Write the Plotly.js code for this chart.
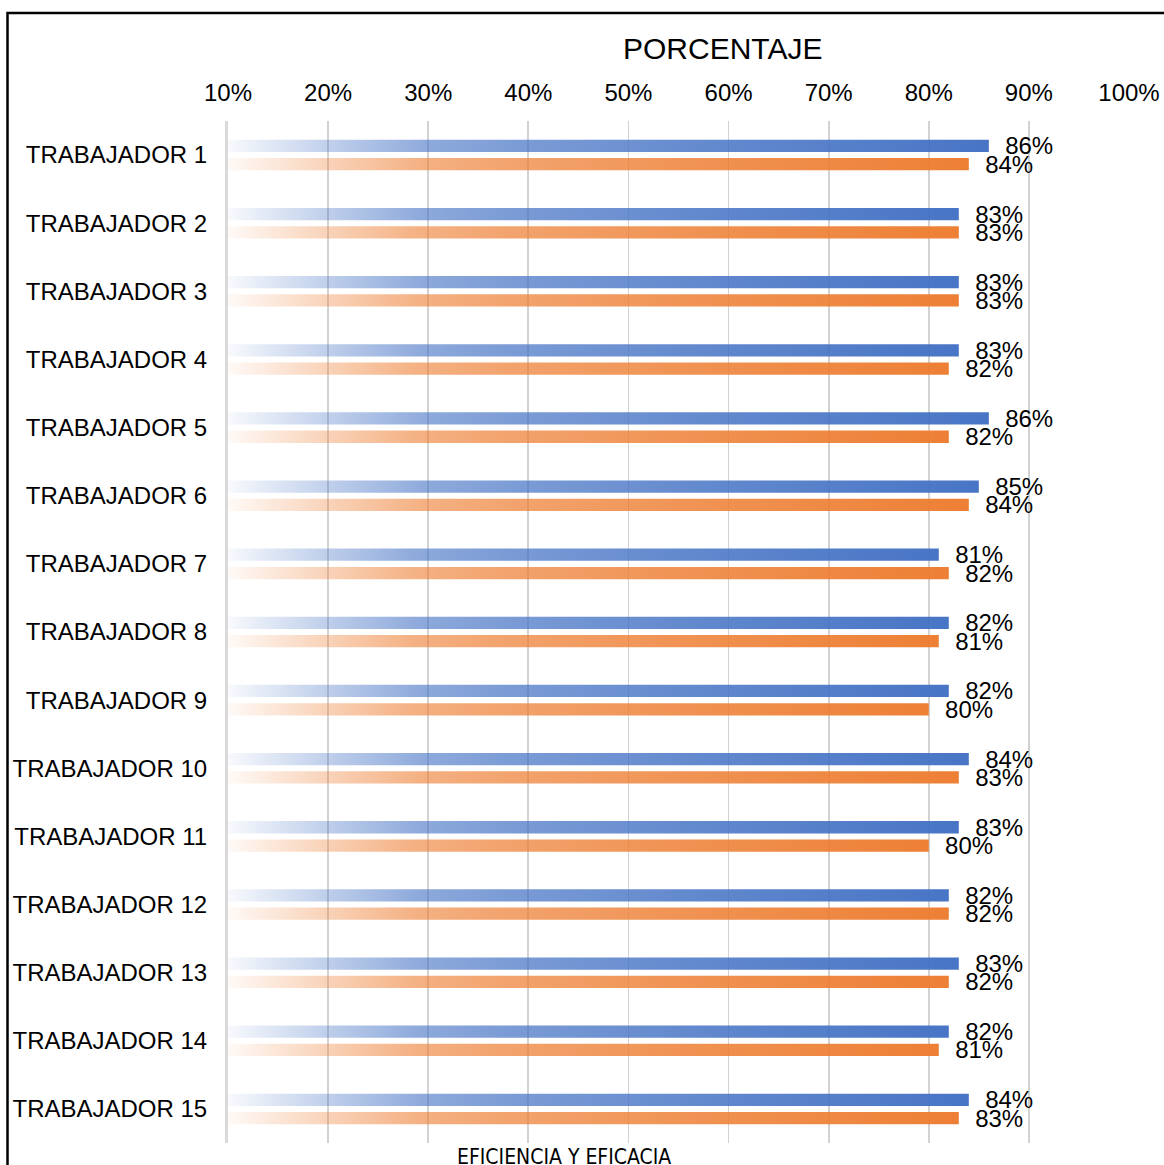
<!DOCTYPE html>
<html>
<head>
<meta charset="utf-8">
<script src="https://cdn.plot.ly/plotly-3.0.1.min.js"></script>
<style>html,body{margin:0;padding:0;background:#fff;}#chart{width:1164px;height:1165px;}</style>
</head>
<body>
<div id="chart"></div>
<script>
// ---- data ----
const categories = ['TRABAJADOR 1','TRABAJADOR 2','TRABAJADOR 3','TRABAJADOR 4','TRABAJADOR 5',
  'TRABAJADOR 6','TRABAJADOR 7','TRABAJADOR 8','TRABAJADOR 9','TRABAJADOR 10',
  'TRABAJADOR 11','TRABAJADOR 12','TRABAJADOR 13','TRABAJADOR 14','TRABAJADOR 15'];
const eficiencia = [0.86,0.83,0.83,0.83,0.86,0.85,0.81,0.82,0.82,0.84,0.83,0.82,0.83,0.82,0.84];
const eficacia   = [0.84,0.83,0.83,0.82,0.82,0.84,0.82,0.81,0.80,0.83,0.80,0.82,0.82,0.81,0.83];
const tickVals = [0.1,0.2,0.3,0.4,0.5,0.6,0.7,0.8,0.9,1.0];
const tickText = ['10%','20%','30%','40%','50%','60%','70%','80%','90%','100%'];
const axisTitle = 'PORCENTAJE';
const bottomText = 'EFICIENCIA Y EFICACIA';
const AXIS_MIN = 0.1, AXIS_MAX = 1.0;

// ---- layout constants ----
const W = 1164, H = 1165;
const M = {l:228, r:35, t:121, b:22};
const PW = W - M.l - M.r, PH = H - M.t - M.b;
const px2x = px => (px - M.l) / PW;
const px2y = py => (H - M.b - py) / PH;

const FONT = 'Liberation Sans, Arial, sans-serif';
const COLORS = [[68,114,196],[237,125,49]];

function lbl(v){ return '\u00a0\u00a0' + Math.round(v*100) + '%'; }

function barTrace(name, vals, idx){
  return {
    type:'bar', orientation:'h', name:name,
    y: categories,
    x: vals.map(v => v - AXIS_MIN),
    base: AXIS_MIN,
    text: vals.map(lbl),
    textposition:'outside',
    textangle:0,
    constraintext:'none',
    cliponaxis:false,
    textfont:{family:FONT, size:24, color:'#000'},
    marker:{color:'rgb('+COLORS[idx].join(',')+')', line:{width:0}},
    hoverinfo:'skip'
  };
}

const data = [barTrace('EFICIENCIA', eficiencia, 0), barTrace('EFICACIA', eficacia, 1)];

const layout = {
  width:W, height:H, autosize:false,
  margin:M,
  paper_bgcolor:'#fff', plot_bgcolor:'#fff',
  showlegend:false,
  font:{family:FONT, size:24, color:'#000'},
  barmode:'group', bargap:0.463, bargroupgap:0.33,
  xaxis:{
    side:'top', range:[AXIS_MIN, AXIS_MAX],
    tickvals:tickVals, ticktext:tickText,
    showgrid:true, gridcolor:'#d2d2d2', gridwidth:1.8,
    zeroline:false, showline:false, ticks:'',
    ticklabelstandoff:14,
    tickfont:{family:FONT, size:24, color:'#000'}
  },
  yaxis:{
    type:'category', autorange:'reversed',
    showgrid:false, zeroline:false,
    showline:true, linecolor:'#d9d9d9', linewidth:3,
    ticks:'', ticklabelstandoff:13,
    tickfont:{family:FONT, size:24, color:'#000'}
  },
  annotations:[
    {text:axisTitle, xref:'paper', yref:'paper', x:px2x(722), y:px2y(48),
     xanchor:'center', yanchor:'middle', showarrow:false,
     font:{family:FONT, size:30, color:'#000'}},
    {text:bottomText, xref:'paper', yref:'paper', x:px2x(564), y:px2y(1157),
     xanchor:'center', yanchor:'middle', showarrow:false,
     font:{family:'DejaVu Sans Condensed, Liberation Sans Narrow, Liberation Sans, Arial', size:21, color:'#000'}}
  ],
  shapes:[
    {type:'path', xref:'paper', yref:'paper',
     path:'M '+px2x(7.5)+' '+px2y(H+20)+' L '+px2x(7.5)+' '+px2y(13)+' L '+px2x(W+20)+' '+px2y(13),
     line:{color:'#000', width:2.5}, layer:'above'}
  ]
};

Plotly.newPlot('chart', data, layout, {staticPlot:true, displayModeBar:false}).then(gd => {
  const NS = 'http://www.w3.org/2000/svg';
  const svg = gd.querySelector('.main-svg');
  let defs = svg.querySelector('defs');
  if(!defs){ defs = document.createElementNS(NS,'defs'); svg.insertBefore(defs, svg.firstChild); }
  const stops = [[0,0.04],[0.13,0.33],[0.26,0.6],[0.39,0.71],[0.65,0.84],[0.9,0.94],[1,0.98]];
  COLORS.forEach((c,i) => {
    const g = document.createElementNS(NS,'linearGradient');
    g.setAttribute('id','barGrad'+i);
    g.setAttribute('x1','0'); g.setAttribute('y1','0');
    g.setAttribute('x2','1'); g.setAttribute('y2','0');
    stops.forEach(s => {
      const st = document.createElementNS(NS,'stop');
      st.setAttribute('offset', s[0]);
      st.setAttribute('stop-color','rgb('+c.join(',')+')');
      st.setAttribute('stop-opacity', s[1]);
      g.appendChild(st);
    });
    defs.appendChild(g);
  });
  gd.querySelectorAll('.barlayer .trace.bars').forEach((t,i) => {
    t.querySelectorAll('.point path').forEach(p => {
      p.style.fill = 'url(#barGrad'+i+')';
      p.style.fillOpacity = 1;
    });
  });
});
</script>
</body>
</html>
